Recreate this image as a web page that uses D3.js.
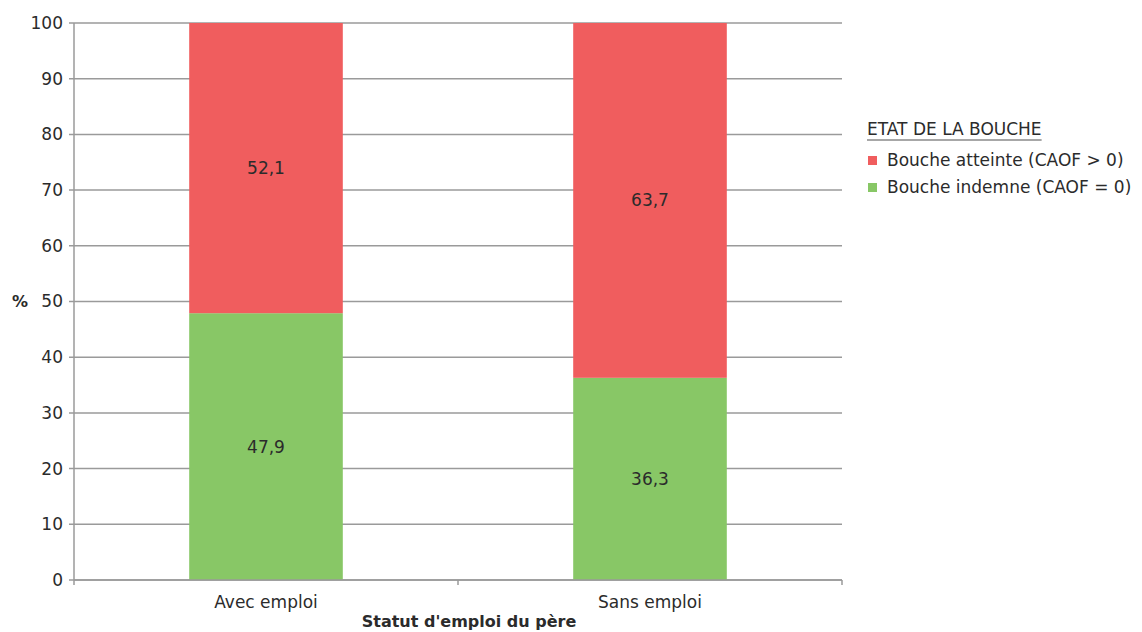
<!DOCTYPE html>
<html>
<head>
<meta charset="utf-8">
<script src="https://cdn.jsdelivr.net/npm/d3@7"></script>
<style>
  html, body { margin: 0; padding: 0; background: #fff; }
  svg text { font-family: "DejaVu Sans", "Noto Sans", sans-serif; fill: #2b2b2b; }
</style>
</head>
<body>
<svg id="chart" width="1142" height="632"></svg>
<script>
// Statut d'emploi du père vs état de la bouche (%)
const categories = ["Avec emploi", "Sans emploi"];
const indemne = [47.9, 36.3];   // Bouche indemne (CAOF = 0)
const atteinte = [52.1, 63.7];  // Bouche atteinte (CAOF > 0)
const yTicks = [0, 10, 20, 30, 40, 50, 60, 70, 80, 90, 100];
const seriesNames = ["Bouche atteinte (CAOF > 0)", "Bouche indemne (CAOF = 0)"];
const seriesColors = ["#f05d5e", "#88c766"];

const fmt = v => String(v).replace(".", ",");

const svg = d3.select("#chart");
const plotLeft = 74, plotRight = 842, plotTop = 23, plotBottom = 580;

const x = d3.scaleBand().domain(categories).range([plotLeft, plotRight]).paddingInner(0).paddingOuter(0);
const y = d3.scaleLinear().domain([0, 100]).range([plotBottom, plotTop]);
const barW = x.bandwidth() * 0.4;

// gridlines
svg.append("g").selectAll("line").data(yTicks).join("line")
  .attr("x1", plotLeft - 5).attr("x2", plotRight)
  .attr("y1", d => y(d)).attr("y2", d => y(d))
  .attr("stroke", "#9a9a9a").attr("stroke-width", 1.5);

// y axis labels
svg.append("g").selectAll("text").data(yTicks).join("text")
  .attr("x", plotLeft - 11).attr("y", d => y(d)).attr("dy", "0.35em")
  .attr("text-anchor", "end").attr("font-size", 17)
  .text(d => d);

// stacked bars
const rows = categories.map((c, i) => ({ c, ind: indemne[i], att: atteinte[i] }));
const g = svg.append("g");
rows.forEach(r => {
  const x0 = x(r.c) + (x.bandwidth() - barW) / 2;
  g.append("rect").attr("x", x0).attr("width", barW)
    .attr("y", y(r.ind)).attr("height", y(0) - y(r.ind))
    .attr("fill", seriesColors[1]);
  g.append("rect").attr("x", x0).attr("width", barW)
    .attr("y", y(r.ind + r.att)).attr("height", y(r.ind) - y(r.ind + r.att))
    .attr("fill", seriesColors[0]);
  g.append("text").attr("x", x0 + barW / 2).attr("y", y(r.ind / 2)).attr("dy", "0.35em")
    .attr("text-anchor", "middle").attr("font-size", 17).text(fmt(r.ind));
  g.append("text").attr("x", x0 + barW / 2).attr("y", y(r.ind + r.att / 2)).attr("dy", "0.35em")
    .attr("text-anchor", "middle").attr("font-size", 17).text(fmt(r.att));
});

// y axis line
svg.append("line").attr("x1", plotLeft).attr("x2", plotLeft).attr("y1", plotTop).attr("y2", plotBottom)
  .attr("stroke", "#9a9a9a").attr("stroke-width", 1.5);

// x axis line and boundary ticks
svg.append("line").attr("x1", plotLeft).attr("x2", plotRight).attr("y1", plotBottom).attr("y2", plotBottom)
  .attr("stroke", "#9a9a9a").attr("stroke-width", 1.5);
const bounds = categories.map(c => x(c)).concat([plotRight]);
svg.append("g").selectAll("line").data(bounds).join("line")
  .attr("x1", d => d).attr("x2", d => d).attr("y1", plotBottom).attr("y2", plotBottom + 5)
  .attr("stroke", "#9a9a9a").attr("stroke-width", 1.5);

// category labels
svg.append("g").selectAll("text").data(categories).join("text")
  .attr("x", d => x(d) + x.bandwidth() / 2).attr("y", 608)
  .attr("text-anchor", "middle").attr("font-size", 17).text(d => d);

// axis titles
svg.append("text").attr("x", 469).attr("y", 627).attr("text-anchor", "middle")
  .attr("font-size", 16).attr("font-weight", "bold").text("Statut d'emploi du père");
svg.append("text").attr("x", 20).attr("y", y(50)).attr("dy", "0.35em").attr("text-anchor", "middle")
  .attr("font-size", 16).attr("font-weight", "bold").text("%");

// legend
const lg = svg.append("g").attr("transform", "translate(867,0)");
const lgTitle = lg.append("text").attr("x", 0).attr("y", 135).attr("font-size", 17).text("ETAT DE LA BOUCHE");
const titleW = lgTitle.node().getComputedTextLength();
lg.append("line").attr("x1", 0).attr("x2", titleW).attr("y1", 140).attr("y2", 140)
  .attr("stroke", "#8a8a8a").attr("stroke-width", 1.5);
seriesNames.forEach((n, i) => {
  const cy = 160 + i * 27;
  lg.append("rect").attr("x", 1).attr("y", cy - 4).attr("width", 9).attr("height", 9)
    .attr("fill", seriesColors[i]);
  lg.append("text").attr("x", 20).attr("y", cy).attr("dy", "0.35em")
    .attr("font-size", 17).text(n);
});
</script>
</body>
</html>
